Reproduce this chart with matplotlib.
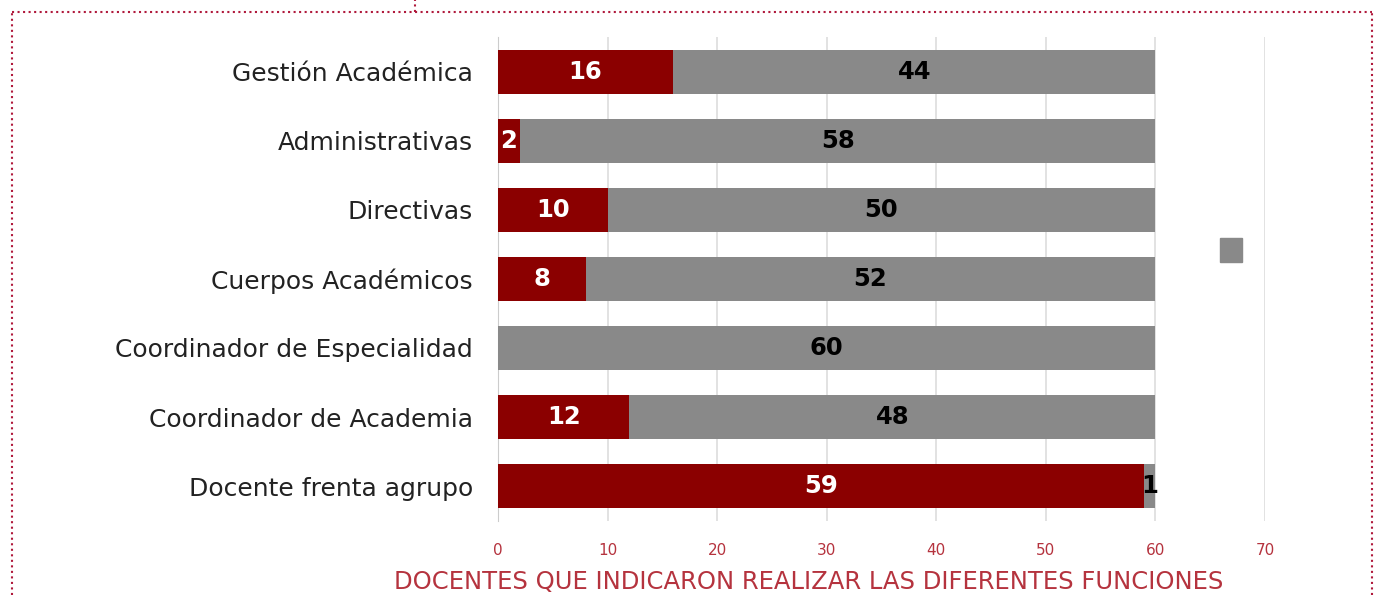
import matplotlib.pyplot as plt
from matplotlib.patches import Patch
from matplotlib.lines import Line2D

plt.rcParams['font.family'] = ['DejaVu Sans']

funciones = ['Gestión Académica', 'Administrativas', 'Directivas', 'Cuerpos Académicos',
             'Coordinador de Especialidad', 'Coordinador de Academia', 'Docente frenta agrupo']
si = [16, 2, 10, 8, 0, 12, 59]
no = [44, 58, 50, 52, 60, 48, 1]
xticks = [0, 10, 20, 30, 40, 50, 60, 70]

rojo = '#8b0000'
gris = '#898989'
rojo_txt = '#b5333e'

fig = plt.figure(figsize=(13.84, 5.95), dpi=100)
ax = fig.add_axes([0.3598, 0.1252, 0.914 - 0.3598, 0.937 - 0.1252])

b1 = ax.barh(funciones, si, height=0.65, color=rojo, zorder=3)
b2 = ax.barh(funciones, no, left=si, height=0.65, color=gris, zorder=3)
ax.bar_label(b1, labels=[str(v) if v else '' for v in si], label_type='center',
             color='white', fontsize=17.5, fontweight='bold')
ax.bar_label(b2, labels=[str(v) if v else '' for v in no], label_type='center',
             color='black', fontsize=17.5, fontweight='bold')

ax.set_xlim(0, 70)
ax.set_ylim(6.5, -0.5)
ax.set_xticks(xticks)
ax.grid(axis='x', color='#dddddd', linewidth=1.2, zorder=0)
for s in ['top', 'right', 'bottom']:
    ax.spines[s].set_visible(False)
ax.spines['left'].set_color('#cccccc')
ax.tick_params(axis='y', length=0, pad=18, labelsize=18, labelcolor='#222222')
ax.tick_params(axis='x', length=0, pad=16, labelsize=11, labelcolor=rojo_txt)
ax.set_xlabel('DOCENTES QUE INDICARON REALIZAR LAS DIFERENTES FUNCIONES',
              color=rojo_txt, fontsize=17.5)
ax.xaxis.set_label_coords(0.405, -0.102)

ax.legend(handles=[Patch(color=gris)], labels=[''], frameon=False,
          loc='center left', bbox_to_anchor=(0.922, 0.56),
          handlelength=1.3, handleheight=1.8, fontsize=12)

# marco punteado
borde = '#b0193c'
fig.add_artist(Line2D([0.009, 0.991], [0.98, 0.98], transform=fig.transFigure,
                      color=borde, linestyle=':', linewidth=1.5))
fig.add_artist(Line2D([0.009, 0.009], [0.0, 0.98], transform=fig.transFigure,
                      color=borde, linestyle=':', linewidth=1.5))
fig.add_artist(Line2D([0.991, 0.991], [0.0, 0.98], transform=fig.transFigure,
                      color=borde, linestyle=':', linewidth=1.5))
fig.add_artist(Line2D([0.3, 0.3], [0.98, 1.0], transform=fig.transFigure,
                      color=borde, linestyle=':', linewidth=1.5))

fig.savefig('out.png', dpi=100)
